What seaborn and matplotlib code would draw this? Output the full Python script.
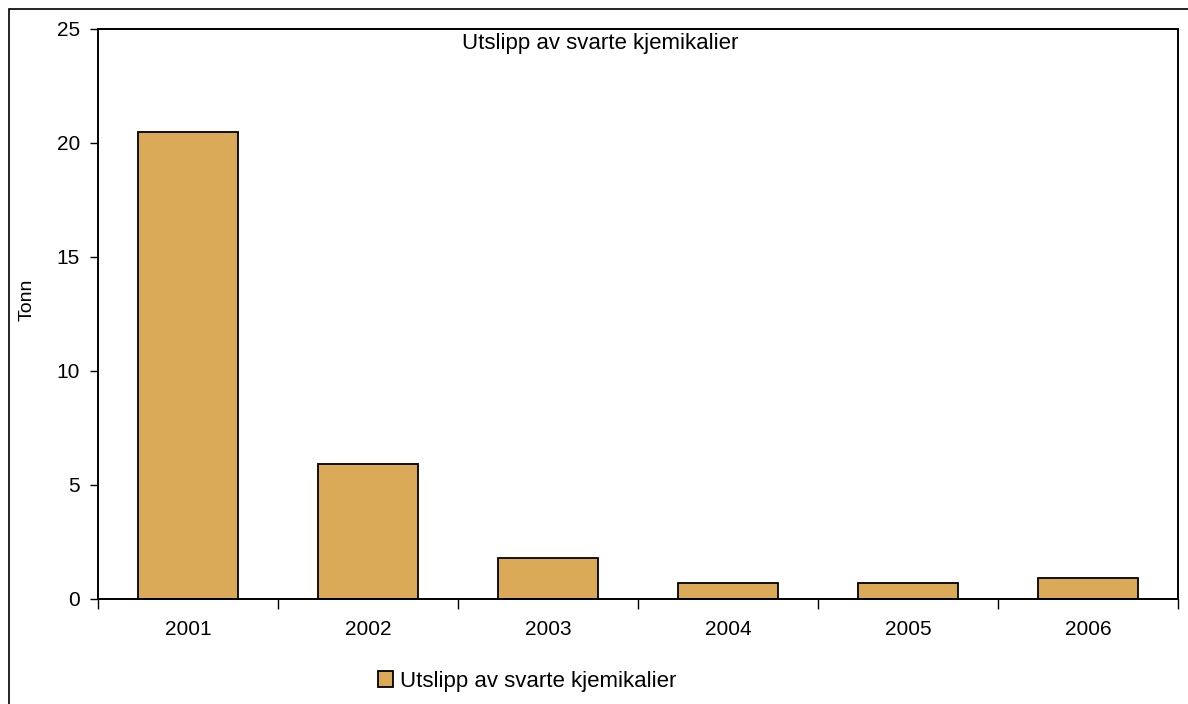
import numpy as np
import pandas as pd
import matplotlib
matplotlib.use("Agg")
import matplotlib.pyplot as plt
from matplotlib.patches import Rectangle
import seaborn as sns

# Data
years = ["2001", "2002", "2003", "2004", "2005", "2006"]
tonn = [20.5, 5.92, 1.78, 0.7, 0.7, 0.92]
series_name = "Utslipp av svarte kjemikalier"

df = pd.DataFrame({"year": years, "tonn": tonn})

sns.set_style("white")
plt.rcParams["font.family"] = ["Liberation Sans", "DejaVu Sans"]
plt.rcParams["text.color"] = "black"
plt.rcParams["xtick.color"] = "black"
plt.rcParams["ytick.color"] = "black"
plt.rcParams["axes.labelcolor"] = "black"

fig = plt.figure(figsize=(11.88, 7.04), dpi=100)
ax = fig.add_axes([98 / 1188, 1 - 599 / 704, 1080 / 1188, 570 / 704])

sns.barplot(data=df, x="year", y="tonn", color="#DAAA58", saturation=1,
            edgecolor="black", linewidth=1.3, width=0.555, label=series_name, ax=ax)

handles, labels = ax.get_legend_handles_labels()
if ax.get_legend() is not None:
    ax.get_legend().remove()

ax.set_xlim(-0.5, 5.5)
ax.set_ylim(0, 25)
ax.set_yticks([0, 5, 10, 15, 20, 25])
ax.tick_params(axis="y", direction="out", length=6, width=1, pad=7, labelsize=15, left=True)

# ticks between the categories, labels centred under the bars
ax.set_xticks(np.arange(-0.5, 6, 1))
ax.set_xticklabels([])
ax.set_xticks(range(len(years)), minor=True)
ax.set_xticklabels(years, minor=True)
ax.tick_params(axis="x", which="major", direction="out", length=7, width=1, bottom=True)
ax.tick_params(axis="x", which="minor", length=0, pad=15, labelsize=15)

ax.set_xlabel("")
ax.set_ylabel("Tonn", fontsize=14, va="center")
ax.yaxis.set_label_coords((27 - 98) / 1080, 0.525)

for s in ax.spines.values():
    s.set_visible(True)
    s.set_color("black")
    s.set_linewidth(1.4)

fig.text(600 / 1188, 1 - 43 / 704, series_name, ha="center", va="center", fontsize=16)

fig.legend(handles, labels, loc="center", bbox_to_anchor=(527 / 1188, 1 - 681 / 704),
           frameon=False, fontsize=16, handlelength=0.7, handleheight=0.7,
           handletextpad=0.3)

# outer chart frame
fig.patches.append(Rectangle((9 / 1188, -0.1), 1.2, 1 - 9 / 704 + 0.1,
                             transform=fig.transFigure, fill=False,
                             edgecolor="black", linewidth=1.2))

fig.savefig("out.png", dpi=100)
